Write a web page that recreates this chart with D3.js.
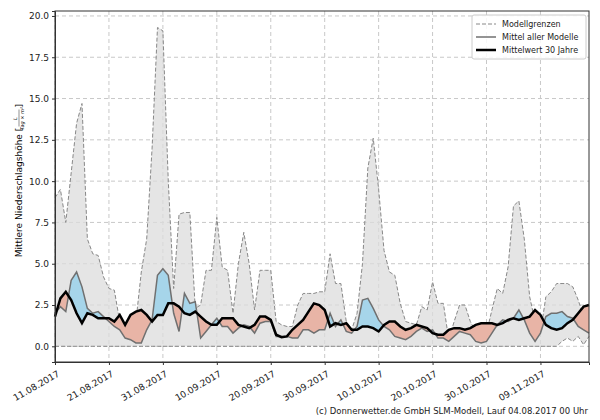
<!DOCTYPE html>
<head>
<meta charset="utf-8">
<style>
body { margin:0; background:#fff; }
text { font-family:'DejaVu Sans', sans-serif; }
.grid line { stroke:#c8c8c8; stroke-dasharray:4,3; }
.axis text { font-size:9px; fill:#222; }
.axis path, .axis line { stroke:#333; }
</style>
</head>
<body>
<div id="chart1"></div>
<script src="https://d3js.org/d3.v7.min.js"></script>
<script>

var startDate = new Date(2017, 7, 11);

var upper = [9.0,9.5,7.5,10.5,13.5,14.7,6.5,5.6,5.5,4.2, 3.5,3.4,1.5,0.5,0.5,1.5,4.5,6.5,12,19.3,
  19.1,10,3.5,8.0,8.1,8.1,2.3,2.5,4.6,4.6, 7.8,4.8,4.6,2.0,5.0,6.9,5.0,2.2,4.6,4.6,
  4.6,1.5,1.3,1.2,1.2,2.5,3.2,3.2,3.2,3.3, 3.3,5.6,3.8,3.8,1.5,1.0,2.0,5.0,10.8,12.6,
  9.5,5.8,4.5,4.3,2.6,1.5,1.4,1.3,2.4,2.2, 3.9,2.6,2.6,0.4,1.5,2.5,2.5,1.5,0.9,0.8,
  0.8,2.2,3.5,3.2,4.8,8.5,8.8,6.5,3.0,1.5, 0.8,3.0,3.3,3.8,3.8,3.8,3.6,2.8,1.8,1.5];

var lower = [0,0,0,0,0,0,0,0,0,0, 0,0,0,0,0,0,0,0,0,0, 0,0,0,0,0,0,0,0,0,0,
  0,0,0,0,0,0,0,0,0,0, 0,0,0,0,0,0,0,0,0,0, 0,0,0,0,0,0,0,0,0,0,
  0,0,0,0,0,0,0,0,0,0, 0,0,0,0,0,0,0,0,0,0, 0,0,0,0,0,0,0,0,0,0,
  0,0,0,0,0.3,0.5,0.3,0.6,0.1,0.6];

var modelMean = [2.0,2.4,2.1,4.0,4.5,3.6,2.3,2.0,2.1,1.8, 1.5,1.2,1.0,0.5,0.4,0.2,0.2,1.0,1.6,4.3,
  4.7,4.3,2.0,0.9,3.2,2.6,2.7,0.5,0.9,1.3, 1.7,1.2,1.2,0.8,1.1,1.3,1.2,0.8,1.4,1.5,
  1.5,0.6,0.6,0.6,0.5,0.5,1.0,1.0,0.8,1.0, 1.0,2.0,1.2,1.6,0.9,0.8,1.2,2.8,2.9,2.3,
  1.6,1.2,1.0,0.6,0.5,0.4,0.6,0.9,1.1,0.9, 1.0,0.5,0.5,0.3,0.6,0.9,0.8,0.7,0.3,0.2,
  0.3,0.8,1.3,1.6,1.5,1.7,2.2,1.6,0.8,0.3, 0.8,1.8,2.0,2.0,2.1,1.8,1.7,1.2,1.0,0.8];

var clim30 = [1.8,2.9,3.3,2.8,2.0,1.4,2.0,1.9,1.7,1.7, 1.7,1.5,1.9,1.3,1.9,2.1,2.2,1.9,1.5,1.9,
  1.9,2.6,2.6,2.4,2.0,1.9,2.1,1.8,1.5,1.3, 1.3,1.7,1.7,1.7,1.3,1.2,1.1,1.3,1.8,1.8,
  1.6,0.7,0.55,0.6,1.0,1.3,1.6,2.1,2.6,2.5, 2.2,1.2,1.4,1.3,1.4,1.0,1.0,1.2,1.2,1.1,
  0.9,1.3,1.5,1.5,1.2,1.0,1.1,1.3,1.2,1.1, 0.8,0.7,0.7,1.0,1.1,1.1,1.0,1.1,1.3,1.4,
  1.4,1.4,1.3,1.4,1.6,1.7,1.6,1.7,1.8,2.2, 1.9,1.3,1.1,1.0,1.1,1.4,1.6,2.0,2.4,2.5];

var yTicks = [0, 2.5, 5, 7.5, 10, 12.5, 15, 17.5, 20];
var legendLabels = ["Modellgrenzen", "Mittel aller Modelle", "Mittelwert 30 Jahre"];

var data = upper.map(function(u, i) {
  return { date: d3.timeDay.offset(startDate, i), upper: u, lower: lower[i], mean: modelMean[i], clim: clim30[i] };
});

var margin = {top: 11, right: 11, bottom: 58, left: 55},
    width = 600 - margin.left - margin.right,
    height = 420 - margin.top - margin.bottom;

var svg = d3.select('#chart1').append('svg')
    .attr('width', 600).attr('height', 420);

var xScale = d3.scaleTime()
    .domain([startDate, d3.timeDay.offset(startDate, 99.3)])
    .range([0, width]);
var yScale = d3.scaleLinear().domain([-0.95, 20.3]).range([height, 0]);

var xTicks = d3.range(0, 100, 10).map(function(i) { return d3.timeDay.offset(startDate, i); });

var g = svg.append('g').attr('transform', 'translate(' + margin.left + ',' + margin.top + ')');

var defs = svg.append('defs');
var areaAbove = d3.area().x(function(d) { return xScale(d.date); })
    .y0(0).y1(function(d) { return yScale(d.clim); });
var areaBelow = d3.area().x(function(d) { return xScale(d.date); })
    .y0(height).y1(function(d) { return yScale(d.clim); });
defs.append('clipPath').attr('id', 'above').append('path').attr('d', areaAbove(data));
defs.append('clipPath').attr('id', 'below').append('path').attr('d', areaBelow(data));

// grid
g.append('g').attr('class', 'grid').selectAll('line').data(yTicks).enter().append('line')
  .attr('x1', 0).attr('x2', width)
  .attr('y1', function(d) { return yScale(d); }).attr('y2', function(d) { return yScale(d); });
g.append('g').attr('class', 'grid').selectAll('line').data(xTicks).enter().append('line')
  .attr('y1', 0).attr('y2', height)
  .attr('x1', function(d) { return xScale(d); }).attr('x2', function(d) { return xScale(d); });

// model range
var range = d3.area().x(function(d) { return xScale(d.date); })
    .y0(function(d) { return yScale(d.lower); }).y1(function(d) { return yScale(d.upper); });
g.append('path').attr('d', range(data)).attr('fill', '#dcdcdc').attr('fill-opacity', 0.75);

['upper', 'lower'].forEach(function(k) {
  g.append('path')
    .attr('d', d3.line().x(function(d) { return xScale(d.date); }).y(function(d) { return yScale(d[k]); })(data))
    .attr('fill', 'none').attr('stroke', '#888').attr('stroke-width', 1).attr('stroke-dasharray', '4,2');
});

// difference fills
var diff = d3.area().x(function(d) { return xScale(d.date); })
    .y0(function(d) { return yScale(d.clim); }).y1(function(d) { return yScale(d.mean); });
g.append('path').attr('d', diff(data)).attr('fill', '#a6d5ea').attr('clip-path', 'url(#above)');
g.append('path').attr('d', diff(data)).attr('fill', '#e8b4a6').attr('clip-path', 'url(#below)');

g.append('path')
  .attr('d', d3.line().x(function(d) { return xScale(d.date); }).y(function(d) { return yScale(d.mean); })(data))
  .attr('fill', 'none').attr('stroke', '#707070').attr('stroke-width', 1.5);
g.append('path')
  .attr('d', d3.line().x(function(d) { return xScale(d.date); }).y(function(d) { return yScale(d.clim); })(data))
  .attr('fill', 'none').attr('stroke', '#000').attr('stroke-width', 2.5);

// axes
g.append('g').attr('class', 'axis').call(d3.axisLeft(yScale).tickValues(yTicks).tickFormat(d3.format('.1f')).tickSize(3));
g.append('g').attr('class', 'axis').attr('transform', 'translate(0,' + height + ')')
  .call(d3.axisBottom(xScale).tickValues(xTicks).tickFormat(d3.timeFormat('%d.%m.%Y')).tickSize(3))
  .selectAll('text').attr('text-anchor', 'end').attr('dx', '-0.3em').attr('dy', '0.9em')
  .attr('transform', 'rotate(-30)');
g.append('rect').attr('width', width).attr('height', height)
  .attr('fill', 'none').attr('stroke', '#333').attr('stroke-width', 1);

// y label
var yl = svg.append('g').attr('transform', 'translate(18,' + (margin.top + height / 2) + ') rotate(-90)');
yl.append('text').attr('x', -6).attr('y', 4).attr('text-anchor', 'middle').attr('font-size', '9px')
  .text('Mittlere Niederschlagshöhe [');
yl.append('text').attr('x', 68).attr('y', -1).attr('text-anchor', 'middle').attr('font-size', '5px')
  .attr('font-style', 'italic').text('L');
yl.append('line').attr('x1', 60).attr('x2', 77).attr('y1', 1).attr('y2', 1).attr('stroke', '#222').attr('stroke-width', 0.5);
yl.append('text').attr('x', 68).attr('y', 6).attr('text-anchor', 'middle').attr('font-size', '5px')
  .attr('font-style', 'italic').text('Tag × m²');
yl.append('text').attr('x', 79).attr('y', 4).attr('font-size', '9px').text(']');

// legend
var lg = g.append('g').attr('transform', 'translate(' + (width - 117) + ',4)');
lg.append('rect').attr('width', 114).attr('height', 44).attr('fill', '#fff').attr('fill-opacity', 0.85)
  .attr('stroke', '#ccc').attr('rx', 2);
var lstyles = [
  {stroke: '#888', w: 1, dash: '4,2'},
  {stroke: '#707070', w: 1.5, dash: null},
  {stroke: '#000', w: 2.5, dash: null}
];
legendLabels.forEach(function(l, i) {
  var yy = 9 + i * 13;
  lg.append('line').attr('x1', 4).attr('x2', 24).attr('y1', yy).attr('y2', yy)
    .attr('stroke', lstyles[i].stroke).attr('stroke-width', lstyles[i].w).attr('stroke-dasharray', lstyles[i].dash);
  lg.append('text').attr('x', 30).attr('y', yy + 3).attr('font-size', '8px').attr('fill', '#222').text(l);
});

svg.append('text').attr('x', 588).attr('y', 414).attr('text-anchor', 'end').attr('font-size', '8.5px')
  .attr('fill', '#222').text('(c) Donnerwetter.de GmbH SLM-Modell, Lauf 04.08.2017 00 Uhr');

</script>
</body>
